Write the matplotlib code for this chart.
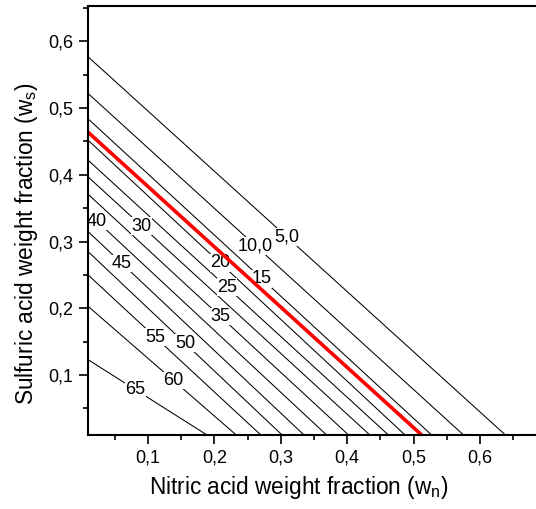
import matplotlib
matplotlib.use('Agg')
import matplotlib.pyplot as plt
from matplotlib.ticker import MultipleLocator, FuncFormatter

matplotlib.rc('font', family=['Liberation Sans', 'DejaVu Sans'])

# contour levels and where each line meets the axes
levels = ['5,0', '10,0', '15', '20', '25', '30', '35', '40', '45', '50', '55', '60', '65']
# w_s where the line meets the left edge (w_n = 0.01)
left_ws = [0.577, 0.522, 0.484, 0.452, 0.422, 0.397, 0.371, 0.343, 0.315, 0.285, 0.250, 0.203, 0.123]
# w_n where the line meets the bottom edge (w_s = 0.01)
bottom_wn = [0.638, 0.575, 0.527, 0.487, 0.462, 0.434, 0.402, 0.369, 0.335, 0.302, 0.270, 0.233, 0.189]
# where the label sits along each line (w_n of the label centre)
label_wn = [0.309, 0.262, 0.2715, 0.2087, 0.219, 0.091, 0.209, 0.0233, 0.0609, 0.156, 0.111, 0.1386, 0.0809]

# the red line
red_ws = 0.464
red_wn = 0.512

x_min, x_max = 0.01, 0.684
y_min, y_max = 0.01, 0.653

fig = plt.figure(figsize=(5.36, 5.09), dpi=100)
ax = fig.add_axes([88 / 536, 74 / 509, 1 - 88 / 536, 429 / 509])

for lev, ys, xb, xl in zip(levels, left_ws, bottom_wn, label_wn):
    ax.plot([x_min, xb], [ys, y_min], color='black', lw=0.75, zorder=2)
    # y of the label on the line
    yl = ys + (y_min - ys) * (xl - x_min) / (xb - x_min)
    ax.text(xl, yl, lev, fontsize=13, ha='center', va='center', zorder=2.3,
            bbox=dict(fc='white', ec='none', pad=0.3))

ax.plot([x_min, red_wn], [red_ws, y_min], color='#ff0000', lw=2.6, zorder=2.4)

ax.set_xlim(x_min, x_max)
ax.set_ylim(y_min, y_max)

comma = FuncFormatter(lambda v, p: ('%.1f' % v).replace('.', ','))
ax.xaxis.set_major_locator(MultipleLocator(0.1))
ax.xaxis.set_minor_locator(MultipleLocator(0.05))
ax.yaxis.set_major_locator(MultipleLocator(0.1))
ax.yaxis.set_minor_locator(MultipleLocator(0.05))
ax.xaxis.set_major_formatter(comma)
ax.yaxis.set_major_formatter(comma)

ax.tick_params(which='major', direction='out', length=6.5, width=1.2, labelsize=13, pad=4)
ax.tick_params(which='minor', direction='out', length=3.5, width=1.2)
ax.tick_params(top=False, right=False)

for s in ['left', 'bottom', 'top']:
    ax.spines[s].set_linewidth(1.5)
    ax.spines[s].set_zorder(2.5)
ax.spines['right'].set_visible(False)

ax.set_xlabel(r'Nitric acid weight fraction (w$_\mathregular{n}$)', fontsize=16.3)
ax.set_ylabel(r'Sulfuric acid weight fraction (w$_\mathregular{s}$)', fontsize=16.3)
ax.xaxis.set_label_coords(0.471, -0.091)
ax.yaxis.set_label_coords(-0.107, 0.445)

fig.savefig('out.png', dpi=100)
